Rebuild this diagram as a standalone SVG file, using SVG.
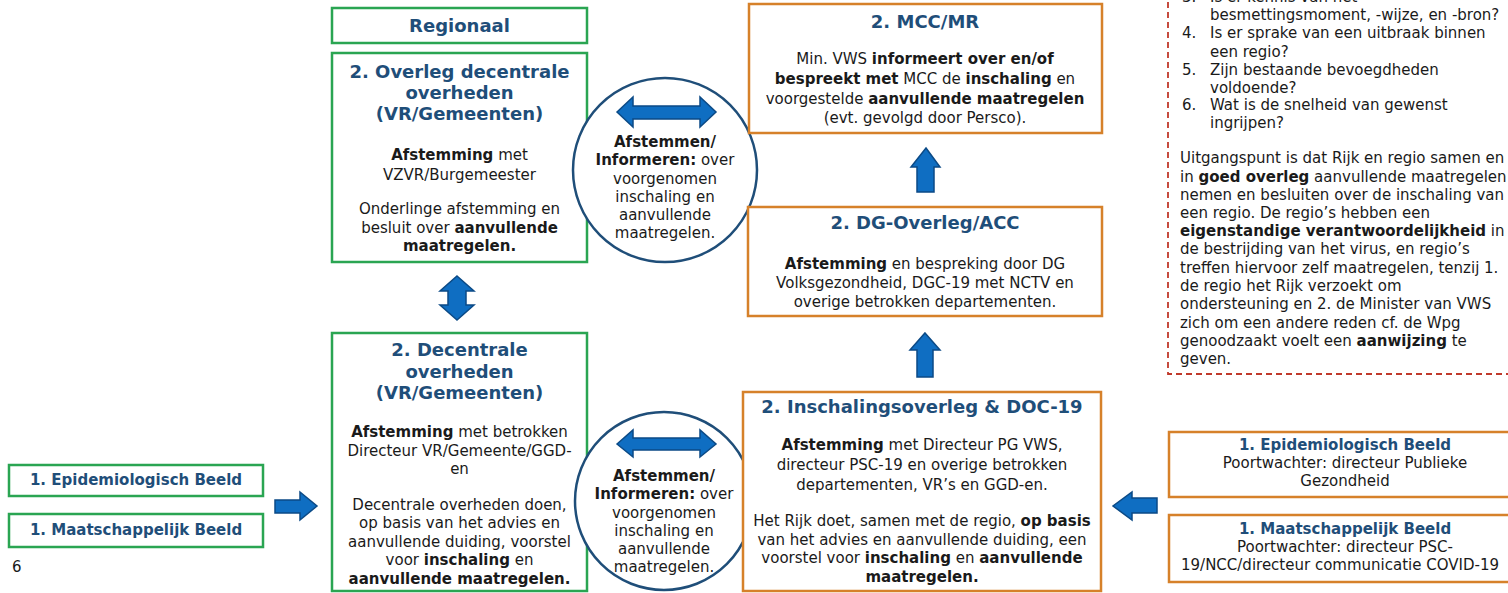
<svg xmlns="http://www.w3.org/2000/svg" width="1508" height="593" viewBox="0 0 1508 593">
<style>
text{font-family:"DejaVu Sans","Noto Sans",sans-serif;font-size:15px;fill:#1a1a1a}
.c{text-anchor:middle}
.t{font-weight:bold;fill:#1f4e79;font-size:18px}
.h{font-weight:bold;fill:#1f4e79;font-size:15px}
.b{font-weight:bold}
.g{fill:#fff;stroke:#2aa552;stroke-width:2.5}
.o{fill:#fff;stroke:#d6812a;stroke-width:2.5}
.arr{fill:#0f6ec2;stroke:#0b4a86;stroke-width:1.5}
.circ{fill:#fff;stroke:#1f4e79;stroke-width:2.5}
.red{fill:#fff;stroke:#c0392b;stroke-width:1.8;stroke-dasharray:6 4}
</style>

<g id="note">
<rect class="red" x="1168" y="-20" width="400" height="394"/>
<text x="1182" y="2">3.</text><text x="1210" y="2">Is er kennis van het</text>
<text x="1210" y="20">besmettingsmoment, -wijze, en -bron?</text>
<text x="1182" y="38">4.</text><text x="1210" y="38">Is er sprake van een uitbraak binnen</text>
<text x="1210" y="57">een regio?</text>
<text x="1182" y="75">5.</text><text x="1210" y="75">Zijn bestaande bevoegdheden</text>
<text x="1210" y="93">voldoende?</text>
<text x="1182" y="110">6.</text><text x="1210" y="110">Wat is de snelheid van gewenst</text>
<text x="1210" y="128">ingrijpen?</text>
<text x="1180" y="163">Uitgangspunt is dat Rijk en regio samen en</text>
<text x="1180" y="182">in <tspan class="b">goed overleg</tspan> aanvullende maatregelen</text>
<text x="1180" y="200">nemen en besluiten over de inschaling van</text>
<text x="1180" y="218">een regio. De regio’s hebben een</text>
<text x="1180" y="236"><tspan class="b">eigenstandige verantwoordelijkheid</tspan> in</text>
<text x="1180" y="254">de bestrijding van het virus, en regio’s</text>
<text x="1180" y="273">treffen hiervoor zelf maatregelen, tenzij 1.</text>
<text x="1180" y="291">de regio het Rijk verzoekt om</text>
<text x="1180" y="309">ondersteuning en 2. de Minister van VWS</text>
<text x="1180" y="328">zich om een andere reden cf. de Wpg</text>
<text x="1180" y="346">genoodzaakt voelt een <tspan class="b">aanwijzing</tspan> te</text>
<text x="1180" y="364">geven.</text>
</g>

<g id="regionaal">
<rect class="g" x="332" y="8" width="255" height="35"/>
<text class="t c" x="459.5" y="32">Regionaal</text>
</g>

<g id="overleg-decentraal">
<rect class="g" x="332" y="53" width="255" height="209"/>
<text class="t c" x="459.5" y="78">2. Overleg decentrale</text>
<text class="t c" x="459.5" y="99">overheden</text>
<text class="t c" x="459.5" y="120">(VR/Gemeenten)</text>
<text class="c" x="459.5" y="160"><tspan class="b">Afstemming</tspan> met</text>
<text class="c" x="459.5" y="180">VZVR/Burgemeester</text>
<text class="c" x="459.5" y="214">Onderlinge afstemming en</text>
<text class="c" x="459.5" y="233">besluit over <tspan class="b">aanvullende</tspan></text>
<text class="c b" x="459.5" y="251">maatregelen.</text>
</g>

<g id="decentraal">
<rect class="g" x="332" y="333" width="255" height="258"/>
<text class="t c" x="459.5" y="356">2. Decentrale</text>
<text class="t c" x="459.5" y="378">overheden</text>
<text class="t c" x="459.5" y="399">(VR/Gemeenten)</text>
<text class="c" x="459.5" y="437"><tspan class="b">Afstemming</tspan> met betrokken</text>
<text class="c" x="459.5" y="456">Directeur VR/Gemeente/GGD-</text>
<text class="c" x="459.5" y="474">en</text>
<text class="c" x="459.5" y="510">Decentrale overheden doen,</text>
<text class="c" x="459.5" y="528">op basis van het advies en</text>
<text class="c" x="459.5" y="547">aanvullende duiding, voorstel</text>
<text class="c" x="459.5" y="565">voor <tspan class="b">inschaling</tspan> en</text>
<text class="c b" x="459.5" y="584">aanvullende maatregelen.</text>
</g>

<g id="afstemmen-top">
<circle class="circ" cx="665" cy="170" r="92"/>
<text class="c b" x="665" y="147">Afstemmen/</text>
<text class="c" x="665" y="165"><tspan class="b">Informeren:</tspan> over</text>
<text class="c" x="665" y="184">voorgenomen</text>
<text class="c" x="665" y="202">inschaling en</text>
<text class="c" x="665" y="220">aanvullende</text>
<text class="c" x="665" y="238">maatregelen.</text>
</g>

<g id="afstemmen-bottom">
<circle class="circ" cx="664" cy="501" r="89"/>
<text class="c b" x="664" y="481">Afstemmen/</text>
<text class="c" x="664" y="499"><tspan class="b">Informeren:</tspan> over</text>
<text class="c" x="664" y="518">voorgenomen</text>
<text class="c" x="664" y="536">inschaling en</text>
<text class="c" x="664" y="554">aanvullende</text>
<text class="c" x="664" y="572">maatregelen.</text>
</g>

<g id="mcc">
<rect class="o" x="749" y="4" width="353" height="129"/>
<text class="t c" x="925" y="28">2. MCC/MR</text>
<text class="c" x="925" y="64">Min. VWS <tspan class="b">informeert over en/of</tspan></text>
<text class="c" x="925" y="84"><tspan class="b">bespreekt met</tspan> MCC de <tspan class="b">inschaling</tspan> en</text>
<text class="c" x="925" y="104">voorgestelde <tspan class="b">aanvullende maatregelen</tspan></text>
<text class="c" x="925" y="123">(evt. gevolgd door Persco).</text>
</g>

<g id="dg">
<rect class="o" x="748" y="207" width="354" height="109"/>
<text class="t c" x="925" y="229">2. DG-Overleg/ACC</text>
<text class="c" x="925" y="269"><tspan class="b">Afstemming</tspan> en bespreking door DG</text>
<text class="c" x="925" y="288">Volksgezondheid, DGC-19 met NCTV en</text>
<text class="c" x="925" y="307">overige betrokken departementen.</text>
</g>

<g id="inschaling">
<rect class="o" x="743" y="392" width="358" height="199"/>
<text class="t c" x="922" y="413">2. Inschalingsoverleg &amp; DOC-19</text>
<text class="c" x="922" y="450"><tspan class="b">Afstemming</tspan> met Directeur PG VWS,</text>
<text class="c" x="922" y="470">directeur PSC-19 en overige betrokken</text>
<text class="c" x="922" y="490">departementen, VR’s en GGD-en.</text>
<text class="c" x="922" y="526">Het Rijk doet, samen met de regio, <tspan class="b">op basis</tspan></text>
<text class="c" x="922" y="545">van het advies en aanvullende duiding, een</text>
<text class="c" x="922" y="563">voorstel voor <tspan class="b">inschaling</tspan> en <tspan class="b">aanvullende</tspan></text>
<text class="c b" x="922" y="582">maatregelen.</text>
</g>

<g id="epi-left">
<rect class="g" x="9" y="465" width="254" height="31"/>
<text class="h c" x="136" y="485">1. Epidemiologisch Beeld</text>
</g>
<g id="maat-left">
<rect class="g" x="9" y="514" width="254" height="33"/>
<text class="h c" x="136" y="535">1. Maatschappelijk Beeld</text>
</g>
<text x="12" y="572">6</text>

<g id="epi-right">
<rect class="o" x="1169" y="432" width="360" height="65"/>
<text class="h c" x="1345" y="450">1. Epidemiologisch Beeld</text>
<text class="c" x="1345" y="468">Poortwachter: directeur Publieke</text>
<text class="c" x="1345" y="486">Gezondheid</text>
</g>
<g id="maat-right">
<rect class="o" x="1169" y="515" width="360" height="67"/>
<text class="h c" x="1345" y="534">1. Maatschappelijk Beeld</text>
<text class="c" x="1345" y="552">Poortwachter: directeur PSC-</text>
<text class="c" x="1340" y="570">19/NCC/directeur communicatie COVID-19</text>
</g>

<g id="connectors">
<polygon class="arr" points="617,112 633,97 633,106 700,106 700,97 716,112 700,127 700,119 633,119 633,127"/>
<polygon class="arr" points="617,444 633,430 633,438 700,438 700,430 716,444 700,457 700,450 633,450 633,457"/>
<polygon class="arr" points="457,276 474,291 466,291 466,305 474,305 457,320 440,305 448,305 448,291 440,291"/>
<polygon class="arr" points="926,148 940,167 934,167 934,192 917,192 917,167 911,167"/>
<polygon class="arr" points="925,333 940,350 933,350 933,377 917,377 917,350 910,350"/>
<polygon class="arr" points="275,500 300,500 300,492 317,506 300,520 300,513 275,513"/>
<polygon class="arr" points="1157,498 1132,498 1132,492 1113,506 1132,520 1132,513 1157,513"/>
</g>
</svg>
